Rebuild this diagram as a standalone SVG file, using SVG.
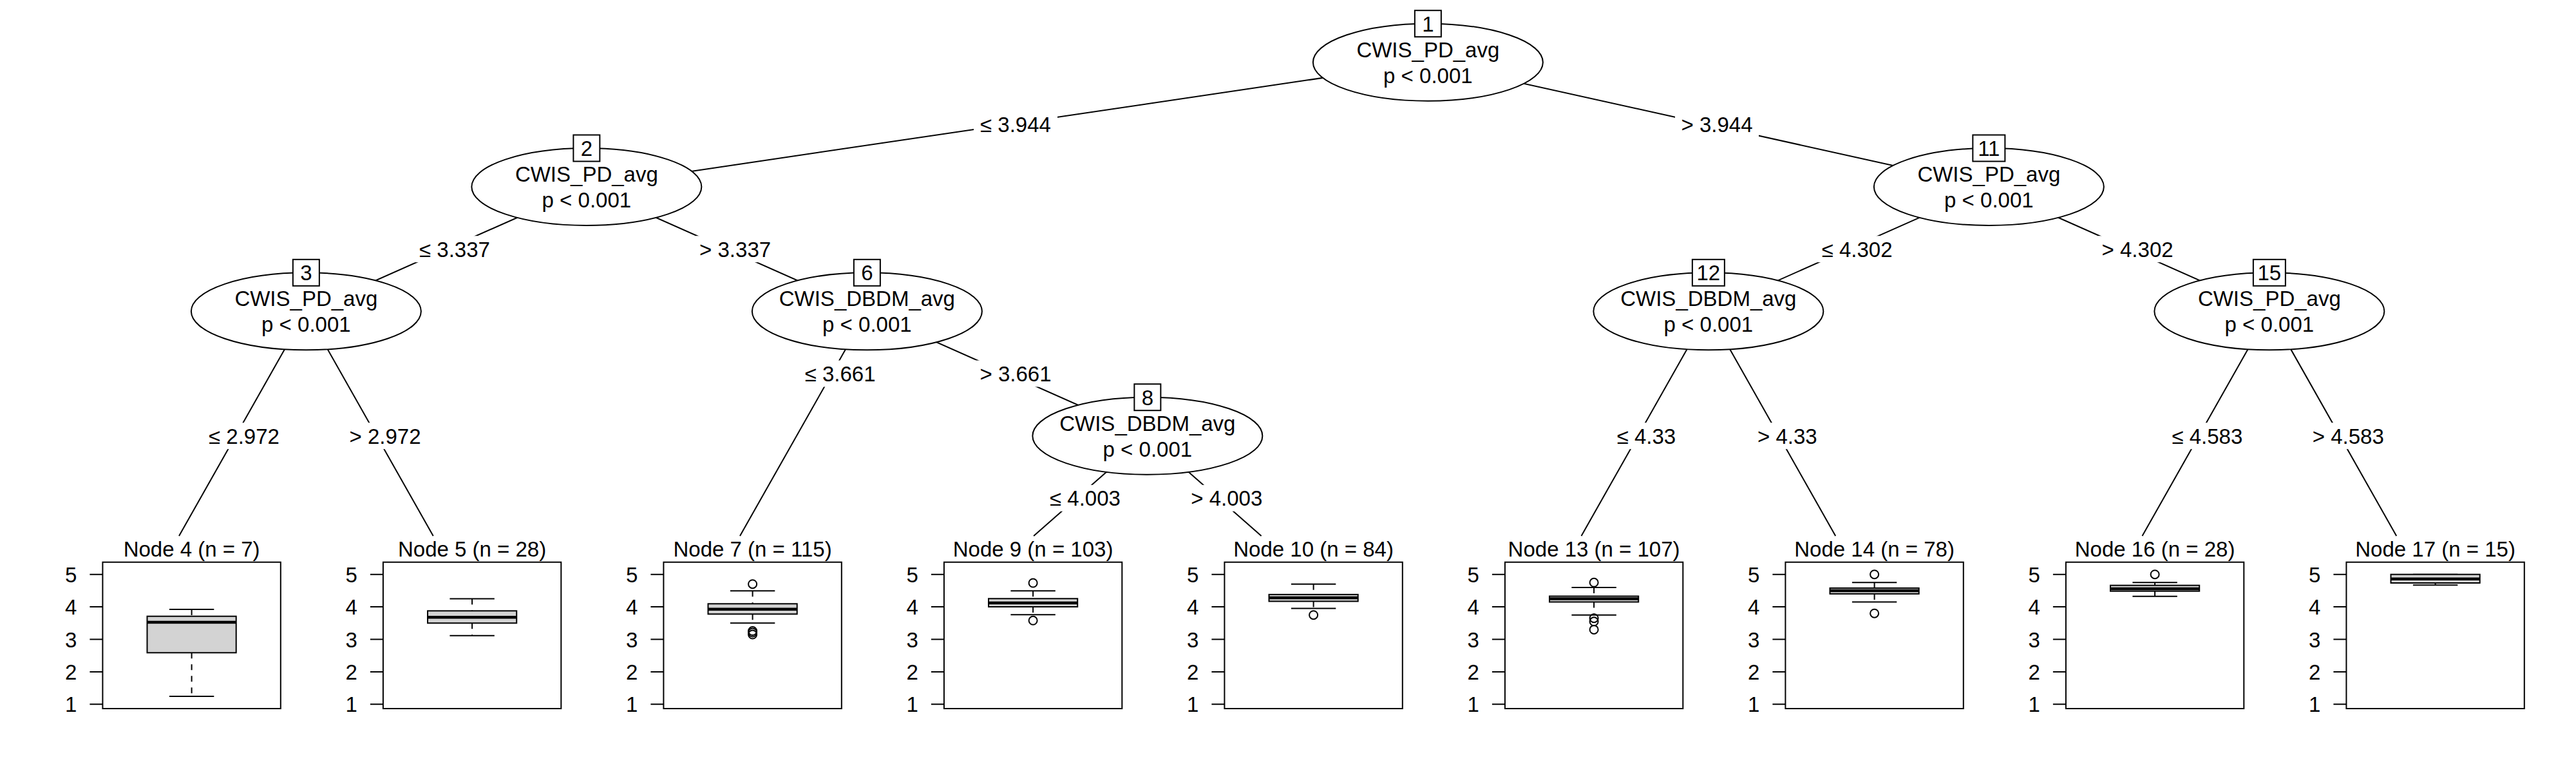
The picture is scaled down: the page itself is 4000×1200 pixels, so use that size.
<svg xmlns="http://www.w3.org/2000/svg" width="4000" height="1200" viewBox="0 0 4000 1200">
<style>
.t{font-family:"Liberation Sans",Arial,Helvetica,sans-serif;font-size:33px;fill:#000}
.m{text-anchor:middle}
.e{text-anchor:end}
.ell{fill:#fff;stroke:#000;stroke-width:2}
.id{fill:#fff;stroke:#000;stroke-width:2}
.edge{stroke:#000;stroke-width:2;fill:none}
.lab{fill:#fff;stroke:none}
.frame{fill:none;stroke:#000;stroke-width:2}
.tick{stroke:#000;stroke-width:2;fill:none}
.bx{fill:#d3d3d3;stroke:#000;stroke-width:2}
.med{stroke:#000;stroke-width:4.5;fill:none}
.wh{stroke:#000;stroke-width:2;stroke-dasharray:9 9;fill:none}
.cap{stroke:#000;stroke-width:2;fill:none}
.out{fill:none;stroke:#000;stroke-width:2}
</style>
<rect x="0" y="0" width="4000" height="1200" fill="#fff"/>
<g id="connectors">
<path class="edge" d="M2217.35 96.7L910.85 290M2217.35 96.7L3088.35 290M910.85 290L475.35 483.3M910.85 290L1346.35 483.3M475.35 483.3L278 832M475.35 483.3L672.7 832M1346.35 483.3L1149 832M1346.35 483.3L1781.85 676.7M1781.85 676.7L1605.1 832M1781.85 676.7L1958.6 832M3088.35 290L2652.85 483.3M3088.35 290L3523.85 483.3M2652.85 483.3L2455.5 832M2652.85 483.3L2850.2 832M3523.85 483.3L3326.5 832M3523.85 483.3L3721.2 832"/>
<rect class="lab" x="1512" y="172.8" width="130" height="41"/>
<text class="t m" x="1577" y="205.3">≤ 3.944</text>
<rect class="lab" x="2601" y="172.8" width="130" height="41"/>
<text class="t m" x="2666" y="205.3">&gt; 3.944</text>
<rect class="lab" x="641" y="366.2" width="130" height="41"/>
<text class="t m" x="706" y="398.7">≤ 3.337</text>
<rect class="lab" x="1076.6" y="366.2" width="130" height="41"/>
<text class="t m" x="1141.6" y="398.7">&gt; 3.337</text>
<rect class="lab" x="314" y="656.2" width="130" height="41"/>
<text class="t m" x="379" y="688.7">≤ 2.972</text>
<rect class="lab" x="533" y="656.2" width="130" height="41"/>
<text class="t m" x="598" y="688.7">&gt; 2.972</text>
<rect class="lab" x="1239.6" y="559.5" width="130" height="41"/>
<text class="t m" x="1304.6" y="592">≤ 3.661</text>
<rect class="lab" x="1512" y="559.5" width="130" height="41"/>
<text class="t m" x="1577" y="592">&gt; 3.661</text>
<rect class="lab" x="1620" y="752.8" width="130" height="41"/>
<text class="t m" x="1685" y="785.3">≤ 4.003</text>
<rect class="lab" x="1839.8" y="752.8" width="130" height="41"/>
<text class="t m" x="1904.8" y="785.3">&gt; 4.003</text>
<rect class="lab" x="2818.6" y="366.2" width="130" height="41"/>
<text class="t m" x="2883.6" y="398.7">≤ 4.302</text>
<rect class="lab" x="3254.1" y="366.2" width="130" height="41"/>
<text class="t m" x="3319.1" y="398.7">&gt; 4.302</text>
<rect class="lab" x="2501.4" y="656.2" width="110" height="41"/>
<text class="t m" x="2556.4" y="688.7">≤ 4.33</text>
<rect class="lab" x="2720.3" y="656.2" width="110" height="41"/>
<text class="t m" x="2775.3" y="688.7">&gt; 4.33</text>
<rect class="lab" x="3362.4" y="656.2" width="130" height="41"/>
<text class="t m" x="3427.4" y="688.7">≤ 4.583</text>
<rect class="lab" x="3581.3" y="656.2" width="130" height="41"/>
<text class="t m" x="3646.3" y="688.7">&gt; 4.583</text>
</g>
<g id="node1">
<ellipse class="ell" cx="2217.35" cy="96.7" rx="178.5" ry="60"/>
<text class="t m" x="2217.35" y="88.5">CWIS_PD_avg</text>
<text class="t m" x="2217.35" y="128.5">p &lt; 0.001</text>
<rect class="id" x="2196.85" y="16.2" width="41" height="41"/>
<text class="t m" x="2217.35" y="48.7">1</text>
</g>
<g id="node2">
<ellipse class="ell" cx="910.85" cy="290" rx="178.5" ry="60"/>
<text class="t m" x="910.85" y="281.8">CWIS_PD_avg</text>
<text class="t m" x="910.85" y="321.8">p &lt; 0.001</text>
<rect class="id" x="890.35" y="209.5" width="41" height="41"/>
<text class="t m" x="910.85" y="242">2</text>
</g>
<g id="node3">
<ellipse class="ell" cx="475.35" cy="483.3" rx="178.5" ry="60"/>
<text class="t m" x="475.35" y="475.1">CWIS_PD_avg</text>
<text class="t m" x="475.35" y="515.1">p &lt; 0.001</text>
<rect class="id" x="454.85" y="402.8" width="41" height="41"/>
<text class="t m" x="475.35" y="435.3">3</text>
</g>
<g id="node6">
<ellipse class="ell" cx="1346.35" cy="483.3" rx="178.5" ry="60"/>
<text class="t m" x="1346.35" y="475.1">CWIS_DBDM_avg</text>
<text class="t m" x="1346.35" y="515.1">p &lt; 0.001</text>
<rect class="id" x="1325.85" y="402.8" width="41" height="41"/>
<text class="t m" x="1346.35" y="435.3">6</text>
</g>
<g id="node8">
<ellipse class="ell" cx="1781.85" cy="676.7" rx="178.5" ry="60"/>
<text class="t m" x="1781.85" y="668.5">CWIS_DBDM_avg</text>
<text class="t m" x="1781.85" y="708.5">p &lt; 0.001</text>
<rect class="id" x="1761.35" y="596.2" width="41" height="41"/>
<text class="t m" x="1781.85" y="628.7">8</text>
</g>
<g id="node11">
<ellipse class="ell" cx="3088.35" cy="290" rx="178.5" ry="60"/>
<text class="t m" x="3088.35" y="281.8">CWIS_PD_avg</text>
<text class="t m" x="3088.35" y="321.8">p &lt; 0.001</text>
<rect class="id" x="3063.35" y="209.5" width="50" height="41"/>
<text class="t m" x="3088.35" y="242">11</text>
</g>
<g id="node12">
<ellipse class="ell" cx="2652.85" cy="483.3" rx="178.5" ry="60"/>
<text class="t m" x="2652.85" y="475.1">CWIS_DBDM_avg</text>
<text class="t m" x="2652.85" y="515.1">p &lt; 0.001</text>
<rect class="id" x="2627.85" y="402.8" width="50" height="41"/>
<text class="t m" x="2652.85" y="435.3">12</text>
</g>
<g id="node15">
<ellipse class="ell" cx="3523.85" cy="483.3" rx="178.5" ry="60"/>
<text class="t m" x="3523.85" y="475.1">CWIS_PD_avg</text>
<text class="t m" x="3523.85" y="515.1">p &lt; 0.001</text>
<rect class="id" x="3498.85" y="402.8" width="50" height="41"/>
<text class="t m" x="3523.85" y="435.3">15</text>
</g>
<g id="node4" transform="translate(159.4 0)">
<text class="t m" x="138.2" y="864.3">Node 4 (n = 7)</text>
<rect class="frame" x="0" y="872.7" width="276.4" height="227.3"/>
<path class="tick" d="M-20 891.7H0M-20 942.1H0M-20 992.5H0M-20 1042.9H0M-20 1093.3H0"/>
<text class="t e" x="-40" y="903.7">5</text><text class="t e" x="-40" y="954.1">4</text><text class="t e" x="-40" y="1004.5">3</text><text class="t e" x="-40" y="1054.9">2</text><text class="t e" x="-40" y="1105.3">1</text>
<path class="wh" d="M138.2 946.1V956.7M138.2 1013.3V1081"/>
<path class="cap" d="M103.5 946.1H172.9M103.5 1081H172.9"/>
<rect class="bx" x="69.1" y="956.7" width="138.2" height="56.6"/>
<path class="med" d="M69.1 966H207.3"/>
</g>
<g id="node5" transform="translate(594.9 0)">
<text class="t m" x="138.2" y="864.3">Node 5 (n = 28)</text>
<rect class="frame" x="0" y="872.7" width="276.4" height="227.3"/>
<path class="tick" d="M-20 891.7H0M-20 942.1H0M-20 992.5H0M-20 1042.9H0M-20 1093.3H0"/>
<text class="t e" x="-40" y="903.7">5</text><text class="t e" x="-40" y="954.1">4</text><text class="t e" x="-40" y="1004.5">3</text><text class="t e" x="-40" y="1054.9">2</text><text class="t e" x="-40" y="1105.3">1</text>
<path class="wh" d="M138.2 929.5V948.3M138.2 967.3V986.7"/>
<path class="cap" d="M103.5 929.5H172.9M103.5 986.7H172.9"/>
<rect class="bx" x="69.1" y="948.3" width="138.2" height="19"/>
<path class="med" d="M69.1 958.2H207.3"/>
</g>
<g id="node7" transform="translate(1030.4 0)">
<text class="t m" x="138.2" y="864.3">Node 7 (n = 115)</text>
<rect class="frame" x="0" y="872.7" width="276.4" height="227.3"/>
<path class="tick" d="M-20 891.7H0M-20 942.1H0M-20 992.5H0M-20 1042.9H0M-20 1093.3H0"/>
<text class="t e" x="-40" y="903.7">5</text><text class="t e" x="-40" y="954.1">4</text><text class="t e" x="-40" y="1004.5">3</text><text class="t e" x="-40" y="1054.9">2</text><text class="t e" x="-40" y="1105.3">1</text>
<path class="wh" d="M138.2 917.3V937.3M138.2 953.3V967.3"/>
<path class="cap" d="M103.5 917.3H172.9M103.5 967.3H172.9"/>
<rect class="bx" x="69.1" y="937.3" width="138.2" height="16"/>
<path class="med" d="M69.1 945.7H207.3"/>
<circle class="out" cx="138.2" cy="906.7" r="6.5"/>
<circle class="out" cx="138.2" cy="979.5" r="6.5"/>
<circle class="out" cx="138.2" cy="982" r="6.5"/>
<circle class="out" cx="138.2" cy="985" r="6.5"/>
</g>
<g id="node9" transform="translate(1465.9 0)">
<text class="t m" x="138.2" y="864.3">Node 9 (n = 103)</text>
<rect class="frame" x="0" y="872.7" width="276.4" height="227.3"/>
<path class="tick" d="M-20 891.7H0M-20 942.1H0M-20 992.5H0M-20 1042.9H0M-20 1093.3H0"/>
<text class="t e" x="-40" y="903.7">5</text><text class="t e" x="-40" y="954.1">4</text><text class="t e" x="-40" y="1004.5">3</text><text class="t e" x="-40" y="1054.9">2</text><text class="t e" x="-40" y="1105.3">1</text>
<path class="wh" d="M138.2 917.3V929.3M138.2 942V954.3"/>
<path class="cap" d="M103.5 917.3H172.9M103.5 954.3H172.9"/>
<rect class="bx" x="69.1" y="929.3" width="138.2" height="12.7"/>
<path class="med" d="M69.1 936H207.3"/>
<circle class="out" cx="138.2" cy="905" r="6.5"/>
<circle class="out" cx="138.2" cy="963.3" r="6.5"/>
</g>
<g id="node10" transform="translate(1901.4 0)">
<text class="t m" x="138.2" y="864.3">Node 10 (n = 84)</text>
<rect class="frame" x="0" y="872.7" width="276.4" height="227.3"/>
<path class="tick" d="M-20 891.7H0M-20 942.1H0M-20 992.5H0M-20 1042.9H0M-20 1093.3H0"/>
<text class="t e" x="-40" y="903.7">5</text><text class="t e" x="-40" y="954.1">4</text><text class="t e" x="-40" y="1004.5">3</text><text class="t e" x="-40" y="1054.9">2</text><text class="t e" x="-40" y="1105.3">1</text>
<path class="wh" d="M138.2 906.8V922.9M138.2 933.5V944.6"/>
<path class="cap" d="M103.5 906.8H172.9M103.5 944.6H172.9"/>
<rect class="bx" x="69.1" y="922.9" width="138.2" height="10.6"/>
<path class="med" d="M69.1 928H207.3"/>
<circle class="out" cx="138.2" cy="954.7" r="6.5"/>
</g>
<g id="node13" transform="translate(2336.9 0)">
<text class="t m" x="138.2" y="864.3">Node 13 (n = 107)</text>
<rect class="frame" x="0" y="872.7" width="276.4" height="227.3"/>
<path class="tick" d="M-20 891.7H0M-20 942.1H0M-20 992.5H0M-20 1042.9H0M-20 1093.3H0"/>
<text class="t e" x="-40" y="903.7">5</text><text class="t e" x="-40" y="954.1">4</text><text class="t e" x="-40" y="1004.5">3</text><text class="t e" x="-40" y="1054.9">2</text><text class="t e" x="-40" y="1105.3">1</text>
<path class="wh" d="M138.2 911.9V925.5M138.2 934.5V954.7"/>
<path class="cap" d="M103.5 911.9H172.9M103.5 954.7H172.9"/>
<rect class="bx" x="69.1" y="925.5" width="138.2" height="9"/>
<path class="med" d="M69.1 929.5H207.3"/>
<circle class="out" cx="138.2" cy="904.3" r="6.5"/>
<circle class="out" cx="138.2" cy="959.7" r="6.5"/>
<circle class="out" cx="138.2" cy="964.8" r="6.5"/>
<circle class="out" cx="138.2" cy="977.4" r="6.5"/>
</g>
<g id="node14" transform="translate(2772.4 0)">
<text class="t m" x="138.2" y="864.3">Node 14 (n = 78)</text>
<rect class="frame" x="0" y="872.7" width="276.4" height="227.3"/>
<path class="tick" d="M-20 891.7H0M-20 942.1H0M-20 992.5H0M-20 1042.9H0M-20 1093.3H0"/>
<text class="t e" x="-40" y="903.7">5</text><text class="t e" x="-40" y="954.1">4</text><text class="t e" x="-40" y="1004.5">3</text><text class="t e" x="-40" y="1054.9">2</text><text class="t e" x="-40" y="1105.3">1</text>
<path class="wh" d="M138.2 904.3V912.9M138.2 921.9V934.5"/>
<path class="cap" d="M103.5 904.3H172.9M103.5 934.5H172.9"/>
<rect class="bx" x="69.1" y="912.9" width="138.2" height="9"/>
<path class="med" d="M69.1 916.9H207.3"/>
<circle class="out" cx="138.2" cy="891.7" r="6.5"/>
<circle class="out" cx="138.2" cy="952.2" r="6.5"/>
</g>
<g id="node16" transform="translate(3207.9 0)">
<text class="t m" x="138.2" y="864.3">Node 16 (n = 28)</text>
<rect class="frame" x="0" y="872.7" width="276.4" height="227.3"/>
<path class="tick" d="M-20 891.7H0M-20 942.1H0M-20 992.5H0M-20 1042.9H0M-20 1093.3H0"/>
<text class="t e" x="-40" y="903.7">5</text><text class="t e" x="-40" y="954.1">4</text><text class="t e" x="-40" y="1004.5">3</text><text class="t e" x="-40" y="1054.9">2</text><text class="t e" x="-40" y="1105.3">1</text>
<path class="wh" d="M138.2 904.3V908.7M138.2 917.7V925.7"/>
<path class="cap" d="M103.5 904.3H172.9M103.5 925.7H172.9"/>
<rect class="bx" x="69.1" y="908.7" width="138.2" height="9"/>
<path class="med" d="M69.1 914H207.3"/>
<circle class="out" cx="138.2" cy="891.7" r="6.5"/>
</g>
<g id="node17" transform="translate(3643.4 0)">
<text class="t m" x="138.2" y="864.3">Node 17 (n = 15)</text>
<rect class="frame" x="0" y="872.7" width="276.4" height="227.3"/>
<path class="tick" d="M-20 891.7H0M-20 942.1H0M-20 992.5H0M-20 1042.9H0M-20 1093.3H0"/>
<text class="t e" x="-40" y="903.7">5</text><text class="t e" x="-40" y="954.1">4</text><text class="t e" x="-40" y="1004.5">3</text><text class="t e" x="-40" y="1054.9">2</text><text class="t e" x="-40" y="1105.3">1</text>
<path class="wh" d="M138.2 905V908.3"/>
<path class="cap" d="M103.5 891.7H172.9M103.5 908.3H172.9"/>
<rect class="bx" x="69.1" y="891.7" width="138.2" height="13.3"/>
<path class="med" d="M69.1 898.7H207.3"/>
</g>
</svg>
